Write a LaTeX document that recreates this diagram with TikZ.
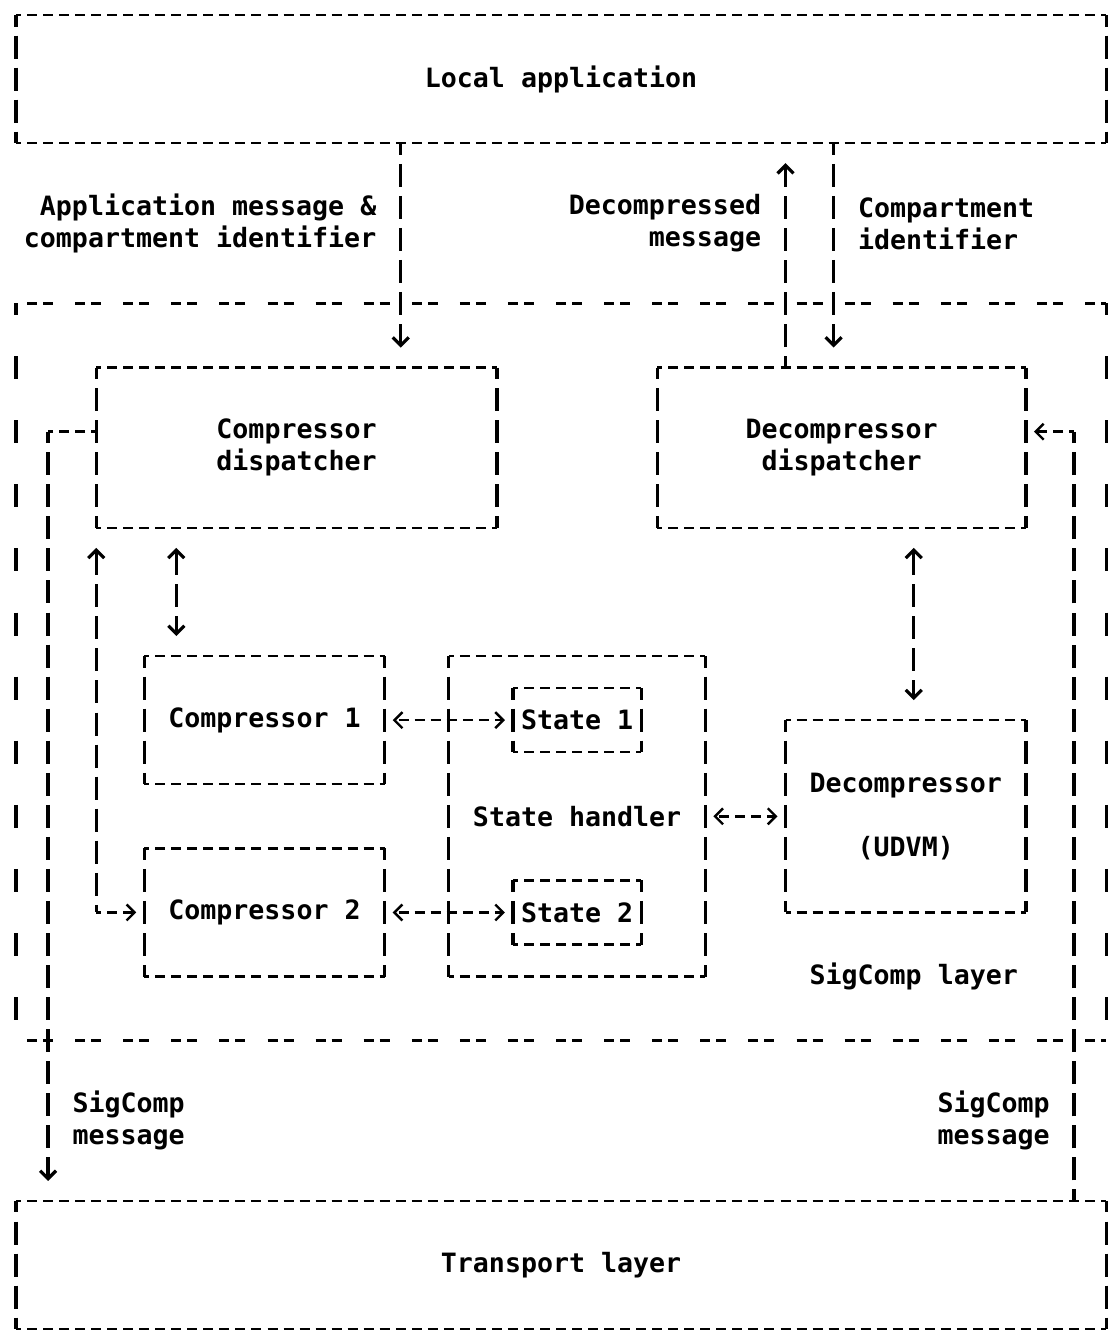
\documentclass[tikz,border=0pt]{standalone}
\usepackage{fontspec}
\setmonofont{DejaVu Sans Mono}
\usetikzlibrary{arrows.meta}
\newcommand{\colw}{8.015pt}
\newcommand{\rowh}{16.025pt}
\tikzset{
  hdash/.style={line width=1.2pt, dash pattern=on 5pt off 3.015pt, dash phase=2.5pt},
  vdash/.style={line width=1.6pt, dash pattern=on 11.5pt off 4.525pt, dash phase=5.75pt},
  sephdash/.style={line width=1.2pt, dash pattern=on 5pt off 3.015pt on 5pt off 11.03pt, dash phase=18.53pt},
  sepvdash/.style={line width=1.6pt, dash pattern=on 11.5pt off 20.55pt, dash phase=5.75pt},
  box/.style={inner sep=0pt, outer sep=0pt, align=center},
  lbl/.style={inner sep=0pt},
  vone/.style={vdash, ->, shorten >=10pt},
  vboth/.style={vdash, <->, shorten <=10pt, shorten >=10pt, dash phase=15.75pt},
  hone/.style={hdash, ->, shorten >=4pt},
  hboth/.style={hdash, <->, shorten <=4pt, shorten >=4pt, dash phase=6.5pt}
}

\begin{document}
\begin{tikzpicture}[x=\colw, y=-\rowh, >={Straight Barb[length=4pt,width=8pt]},
    font=\ttfamily\bfseries\fontsize{13.3pt}{16.025pt}\selectfont]
  \useasboundingbox (-0.998,-0.468) rectangle (68.18,41.12);

  \node[box, minimum width=68*\colw, minimum height=23*\rowh] (layer) at (34,20.5) {};
  \node[box, minimum width=68*\colw, minimum height=4*\rowh] (app) at (34,2) {Local application};
  \node[box, minimum width=25*\colw, minimum height=5*\rowh] (cdisp) at (17.5,13.5) {Compressor\\dispatcher};
  \node[box, minimum width=23*\colw, minimum height=5*\rowh] (ddisp) at (51.5,13.5) {Decompressor\\dispatcher};
  \node[box, minimum width=15*\colw, minimum height=4*\rowh] (comp1) at (15.5,22) {Compressor 1};
  \node[box, minimum width=15*\colw, minimum height=4*\rowh] (comp2) at (15.5,28) {Compressor 2};
  \node[box, minimum width=16*\colw, minimum height=10*\rowh] (state) at (35,25) {State handler};
  \node[box, minimum width=8*\colw, minimum height=2*\rowh] (st1) at (35,22) {State 1};
  \node[box, minimum width=8*\colw, minimum height=2*\rowh] (st2) at (35,28) {State 2};
  \node[box, minimum width=15*\colw, minimum height=6*\rowh] (udvm) at (55.5,25) {Decompressor\\[\rowh](UDVM)};
  \node[box, minimum width=68*\colw, minimum height=4*\rowh] (trans) at (34,39) {Transport layer};

  \node[lbl, align=right, anchor=east] (appmsg) at (22.5,6.5) {Application message \&\\compartment identifier};
  \node[lbl, align=right, anchor=east] (decmsg) at (46.5,6.5) {Decompressed\\message};
  \node[lbl, align=left, anchor=west] (cid) at (52.5,6.5) {Compartment\\identifier};
  \node[lbl] (layerlbl) at (56,30) {SigComp layer};
  \node[lbl, align=left, anchor=west] (sigin) at (3.5,34.5) {SigComp\\message};
  \node[lbl, align=right, anchor=east] (sigout) at (64.5,34.5) {SigComp\\message};

  \foreach \b in {app,cdisp,ddisp,comp1,comp2,state,st1,st2,udvm,trans} {
    \draw[hdash] (\b.north west) -- (\b.north east) (\b.south west) -- (\b.south east);
    \draw[vdash] (\b.north west) -- (\b.south west) (\b.north east) -- (\b.south east);
  }
  \draw[sephdash] (layer.north west) -- (layer.north east) (layer.south west) -- (layer.south east);
  \draw[sepvdash] (layer.north west) -- (layer.south west) (layer.north east) -- (layer.south east);

  \coordinate (lturn) at (2,13);
  \coordinate (rturn) at (66,13);
  \coordinate (cturn) at (5,28);

  \draw[vone] (app.south -| 24,0) -- (cdisp.north -| 24,0);
  \draw[vone] (ddisp.north -| 48,0) -- (app.south -| 48,0);
  \draw[vone] (app.south -| 51,0) -- (ddisp.north -| 51,0);

  \draw[hdash] (cdisp.west |- lturn) -- (lturn);
  \draw[vone] (lturn) -- (trans.north -| lturn);
  \draw[vdash] (trans.north -| rturn) -- (rturn);
  \draw[hone] (rturn) -- (ddisp.east |- rturn);

  \draw[vboth] (cdisp.south -| 10,0) -- (comp1.north -| 10,0);
  \draw[vdash, <-, shorten <=10pt, dash phase=15.75pt] (cdisp.south west) -- (cturn);
  \draw[hone] (cturn) -- (comp2.west);
  \draw[vboth] (ddisp.south -| 56,0) -- (udvm.north -| 56,0);

  \draw[hboth] (comp1.east) -- (st1.west);
  \draw[hboth] (comp2.east) -- (st2.west);
  \draw[hboth] (state.east) -- (udvm.west);
\end{tikzpicture}
\end{document}
